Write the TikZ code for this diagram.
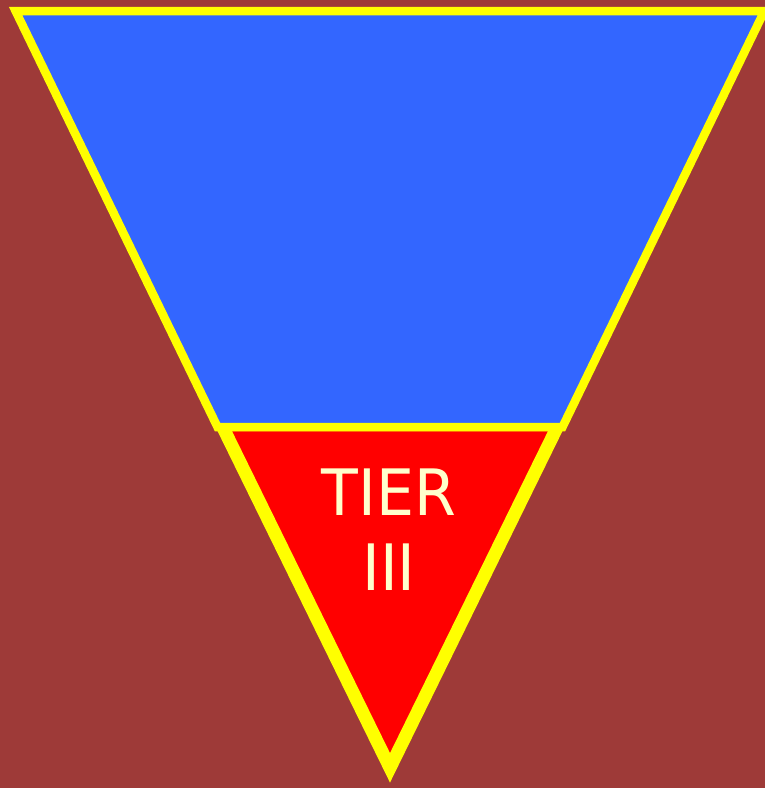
\documentclass[tikz,border=0pt]{standalone}
\usepackage{fontspec}
\setsansfont{DejaVu Sans}
\usepackage{xcolor}
\definecolor{slide}{RGB}{158,58,56}
\definecolor{tierblue}{RGB}{51,102,255}
\definecolor{tierred}{RGB}{255,0,0}
\definecolor{rim}{RGB}{255,255,0}
\definecolor{cream}{RGB}{255,255,204}
\tikzset{
  label/.style={text=cream,font=\sffamily\fontsize{64}{75}\selectfont,inner sep=0pt,anchor=base}
}

\begin{document}
\begin{tikzpicture}[x=1pt,y=-1pt]
      \clip (0,0) rectangle (765,788);
      \fill[slide] (0,0) rectangle (765,788);
      % bottom part
      \draw[rim,line width=13pt,fill=tierred] (221.5,424.5) -- (558.5,424.5) -- (390,767.8) -- cycle;
      % top part
      \draw[rim,line width=8.5pt,fill=tierblue] (15.6,11) -- (764.4,11) -- (562.5,427) -- (217.5,427) -- cycle;
      \node[label] (tier) at (389,515) {\scalebox{0.94}[1]{TIER}};
      \node[label] (three) at (389,590) {\scalebox{0.94}[1]{III}};
    \end{tikzpicture}
\end{document}
